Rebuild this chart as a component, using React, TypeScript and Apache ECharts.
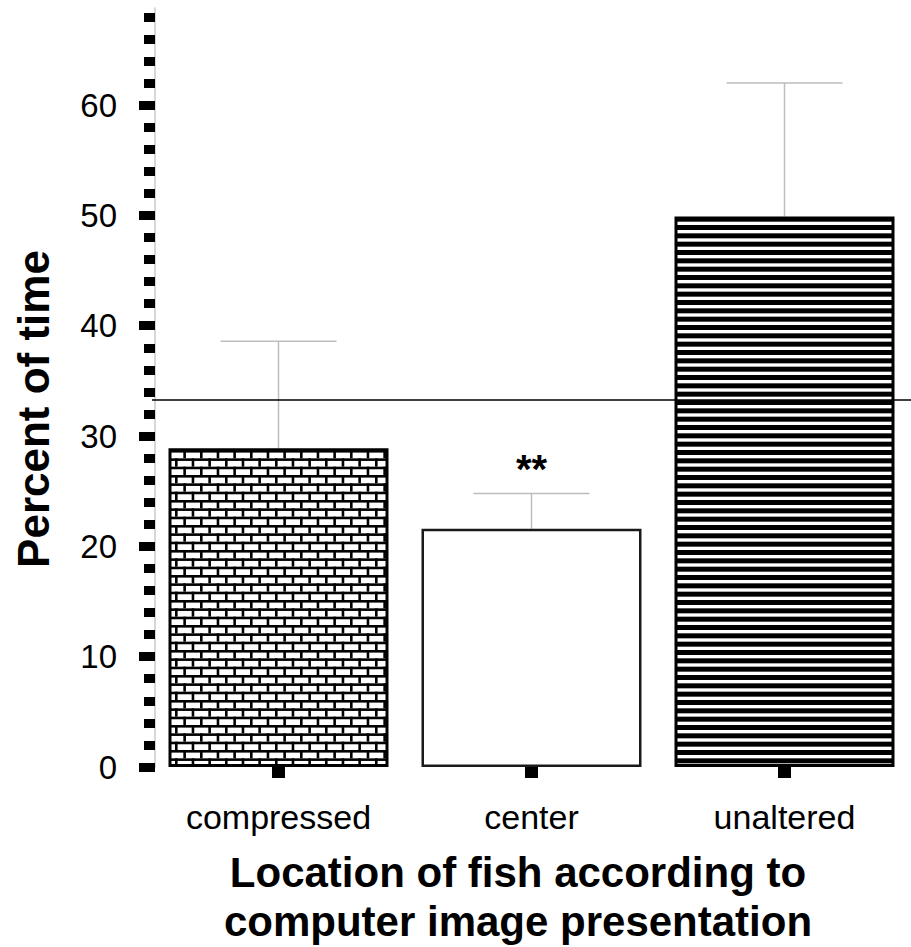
import React, { useEffect, useRef } from "react";
import * as echarts from "echarts";

const categories = ["compressed", "center", "unaltered"];
const meanValues = [28.9, 21.6, 49.9];
const errorTops = [38.6, 24.8, 62.0];
const annotations = ["", "**", ""];
const chanceLevel = 33.3;
const yMajorTicks = [0, 10, 20, 30, 40, 50, 60];
const yMinorTicks = [0, 2, 4, 6, 8, 10, 12, 14, 16, 18, 20, 22, 24, 26, 28, 30, 32, 34, 36, 38, 40, 42, 44, 46, 48, 50, 52, 54, 56, 58, 60, 62, 64, 66, 68];
const yMax = 68.8;
const yAxisTitle = "Percent of time";
const xAxisTitle = "Location of fish according to\ncomputer image presentation";

const FONT = '"Liberation Sans", Arial, Helvetica, sans-serif';

function svgUrl(inner: string, w: number, h: number) {
  const svg = `<svg xmlns="http://www.w3.org/2000/svg" width="${w}" height="${h}" viewBox="0 0 ${w} ${h}"><rect width="${w}" height="${h}" fill="#ffffff"/>${inner}</svg>`;
  return "data:image/svg+xml;charset=utf-8," + encodeURIComponent(svg);
}

function brickPattern() {
  const T = 50;
  const row = T / 6;
  const brick = T / 3;
  const th = 2.6;
  let s = "";
  for (let r = 0; r < 6; r++) {
    const y = r * row;
    s += `<rect x="0" y="${y}" width="${T}" height="${th}" fill="#000"/>`;
    const off = r % 2 === 0 ? 0 : brick / 2;
    for (let k = -1; k < 4; k++) {
      const x = off + k * brick;
      s += `<rect x="${x}" y="${y}" width="${th}" height="${row}" fill="#000"/>`;
    }
  }
  return svgUrl(s, T, T);
}

function stripePattern() {
  const T = 50;
  const row = T / 6;
  let s = "";
  for (let r = 0; r < 6; r++) {
    s += `<rect x="0" y="${r * row}" width="${T}" height="5" fill="#000"/>`;
  }
  return svgUrl(s, T, T);
}

export default function App() {
  const ref = useRef<HTMLDivElement>(null);
  useEffect(() => {
    document.body.style.margin = "0";
    if (!ref.current) return;
    const chart = echarts.init(ref.current, null, { renderer: "svg" });

    const fills: any[] = [
      { image: brickPattern(), repeat: "repeat", imageWidth: 50, imageHeight: 50, x: 5, y: 6 },
      "#ffffff",
      { image: stripePattern(), repeat: "repeat", imageWidth: 50, imageHeight: 50, x: 0, y: 6.8 },
    ];
    const borders = [
      { color: "#000", width: 3 },
      { color: "#1a1a1a", width: 2.5 },
      { color: "#000", width: 3 },
    ];

    const barData = meanValues.map((v, i) => ({
      value: v,
      itemStyle: { color: fills[i], borderColor: borders[i].color, borderWidth: borders[i].width },
      label: annotations[i]
        ? {
            show: true,
            position: "top",
            distance: 40,
            formatter: annotations[i],
            fontSize: 40,
            fontWeight: "bold",
            fontFamily: FONT,
            color: "#000",
          }
        : { show: false },
    }));

    const errData = meanValues.map((v, i) => [i, v, errorTops[i]]);

    chart.setOption({
      animation: false,
      backgroundColor: "#ffffff",
      grid: { left: 152, top: 8, width: 766, height: 759, containLabel: false },
      xAxis: {
        type: "category",
        data: categories,
        axisLine: { show: false },
        axisTick: {
          show: true,
          alignWithLabel: true,
          length: 11,
          lineStyle: { color: "#000", width: 13 },
        },
        axisLabel: { margin: 33, fontSize: 34, color: "#000", fontFamily: FONT },
        splitLine: { show: false },
      },
      yAxis: [
        {
          type: "value",
          min: 0,
          max: yMax,
          offset: -3,
          position: "left",
          axisLine: { show: true, lineStyle: { color: "#c8c8c8", width: 1.5 } },
          axisTick: {
            show: true,
            length: 16,
            customValues: yMajorTicks,
            lineStyle: { color: "#000", width: 9 },
          },
          axisLabel: {
            customValues: yMajorTicks,
            margin: 38,
            fontSize: 33,
            color: "#000",
            fontFamily: FONT,
          },
          splitLine: { show: false },
        },
        {
          type: "value",
          min: 0,
          max: yMax,
          offset: -3,
          position: "left",
          axisLine: { show: false },
          axisTick: {
            show: true,
            length: 11,
            customValues: yMinorTicks,
            lineStyle: { color: "#000", width: 9 },
          },
          axisLabel: { show: false },
          splitLine: { show: false },
        },
      ],
      series: [
        {
          type: "bar",
          data: barData,
          barWidth: 220,
          yAxisIndex: 0,
          z: 3,
          markLine: {
            silent: true,
            symbol: "none",
            label: { show: false },
            lineStyle: { color: "#000", width: 1.5, type: "solid" },
            data: [{ yAxis: chanceLevel }],
          },
        },
        {
          type: "custom",
          data: errData,
          z: 2,
          renderItem: (params: any, api: any) => {
            const base = api.coord([api.value(0), api.value(1)]);
            const top = api.coord([api.value(0), api.value(2)]);
            const half = 58;
            const style = { stroke: "#bdbdbd", lineWidth: 1.5 };
            return {
              type: "group",
              children: [
                { type: "line", shape: { x1: base[0], y1: base[1], x2: top[0], y2: top[1] }, style },
                { type: "line", shape: { x1: top[0] - half, y1: top[1], x2: top[0] + half, y2: top[1] }, style },
              ],
            };
          },
        },
      ],
      graphic: [
        {
          type: "text",
          x: 33,
          y: 409,
          rotation: Math.PI / 2,
          style: {
            text: yAxisTitle,
            fontSize: 44,
            fontWeight: "bold",
            fontFamily: FONT,
            fill: "#000",
            align: "center",
            verticalAlign: "middle",
          },
        },
        {
          type: "text",
          x: 518,
          y: 897,
          style: {
            text: xAxisTitle,
            fontSize: 42,
            fontWeight: "bold",
            fontFamily: FONT,
            lineHeight: 49,
            fill: "#000",
            align: "center",
            verticalAlign: "middle",
          },
        },
      ],
    });
    return () => chart.dispose();
  }, []);
  return <div ref={ref} style={{ width: 911, height: 947 }} />;
}
